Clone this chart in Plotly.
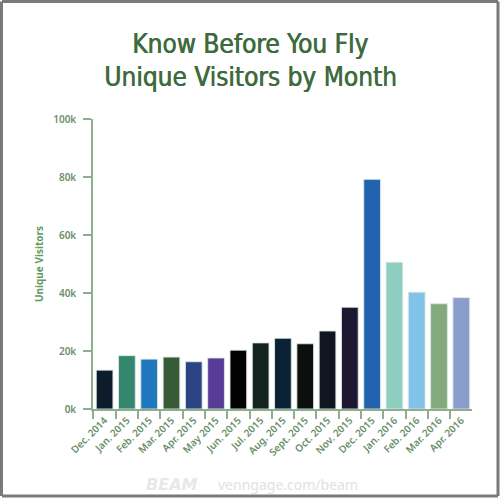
import plotly.graph_objects as go

months = ["Dec. 2014", "Jan. 2015", "Feb. 2015", "Mar. 2015", "Apr. 2015", "May 2015",
          "Jun. 2015", "Jul. 2015", "Aug. 2015", "Sept. 2015", "Oct. 2015", "Nov. 2015",
          "Dec. 2015", "Jan. 2016", "Feb. 2016", "Mar. 2016", "Apr. 2016"]
visitors = [13400, 18400, 17200, 17900, 16300, 17600, 20300, 22800, 24400, 22500,
            26900, 35100, 79200, 50600, 40300, 36300, 38400]
bar_colors = ["#0c1c2c", "#33876f", "#1f77be", "#365b36", "#2c4384", "#583c98",
              "#020202", "#13241e", "#0b2135", "#0d0f0d", "#0f1622", "#1d1732",
              "#2262ae", "#8dcec1", "#82c1e8", "#83aa7c", "#8a9dcd"]
y_ticks = [0, 20000, 40000, 60000, 80000, 100000]
y_tick_labels = ["0k", "20k", "40k", "60k", "80k", "100k"]

W, H = 500, 498
L, R, T, B = 93, 28, 119, 89
pw, ph = W - L - R, H - T - B

def px(x):
    return (x - L) / pw

def py(y):
    return (H - B - y) / ph

axis_col = "#8fae8f"
label_col = "#6a8f6a"
title_col = "#3e6b3e"
frame_col = "#7a7a7a"

fig = go.Figure(go.Bar(
    x=months, y=visitors,
    marker=dict(color=bar_colors, line=dict(color="rgba(220,232,225,0.9)", width=1)),
))

edges = [(2, 1.5, W - 2, 1.5), (2, H - 2, W - 2, H - 2), (1.5, 1.5, 1.5, H - 2), (W - 2, 1.5, W - 2, H - 2)]
shapes = [dict(type="line", xref="paper", yref="paper", x0=px(a), y0=py(b), x1=px(c), y1=py(d),
               line=dict(color=frame_col, width=3), layer="above") for a, b, c, d in edges]

title_font = dict(family="DejaVu Sans Condensed", size=26, color=title_col,
                  shadow="0.7px 0px 0px #3e6b3e")

fig.update_layout(
    width=W, height=H,
    margin=dict(l=L, r=R, t=T, b=B),
    paper_bgcolor="white", plot_bgcolor="white",
    bargap=0.25, showlegend=False,
    xaxis=dict(
        range=[-0.52, 16.48], showline=True, linecolor=axis_col, linewidth=1.5,
        ticks="outside", ticklen=8, tickcolor=axis_col, tickwidth=1.5,
        tickson="boundaries", tickangle=-45, showgrid=False,
        tickfont=dict(family="Noto Sans", size=10, color=label_col, weight=600),
    ),
    yaxis=dict(
        range=[0, 100000], showline=True, linecolor=axis_col, linewidth=1.5,
        ticks="outside", ticklen=8, tickcolor=axis_col, tickwidth=1.5,
        tickvals=y_ticks, ticktext=y_tick_labels, showgrid=False, zeroline=False,
        ticklabelstandoff=5,
        tickfont=dict(family="Noto Sans", size=10, color=label_col, weight=600),
    ),
    shapes=shapes,
    annotations=[
        dict(text="Know Before You Fly", xref="paper", yref="paper", x=px(250), y=py(44),
             showarrow=False, xanchor="center", yanchor="middle", font=title_font),
        dict(text="Unique Visitors by Month", xref="paper", yref="paper", x=px(250), y=py(77),
             showarrow=False, xanchor="center", yanchor="middle", font=title_font),
        dict(text="<b>Unique Visitors</b>", xref="paper", yref="paper", x=px(39), y=py(264),
             showarrow=False, textangle=-90, xanchor="center", yanchor="middle",
             font=dict(family="Noto Sans", size=10, color="#5f9a5f")),
        dict(text="<b><i>BEAM</i></b>", xref="paper", yref="paper", x=px(172), y=py(484),
             showarrow=False, xanchor="center", yanchor="middle",
             font=dict(family="DejaVu Sans", size=16, color="#e8e8e8")),
        dict(text="venngage.com/beam", xref="paper", yref="paper", x=px(288), y=py(484),
             showarrow=False, xanchor="center", yanchor="middle",
             font=dict(family="Noto Sans", size=14, color="#e2e2e2")),
    ],
)

fig.write_html("out.html", config={"displayModeBar": False},
               post_script="document.body.style.margin='0px';document.body.style.overflow='hidden';")
